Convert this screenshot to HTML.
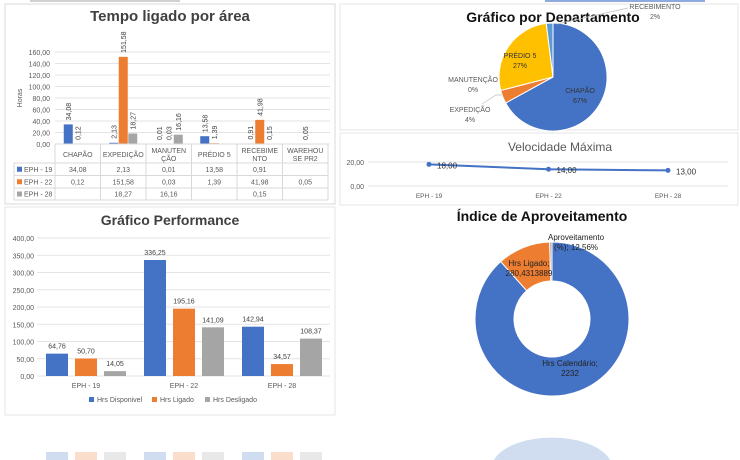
<!DOCTYPE html>
<html><head><meta charset="utf-8">
<style>
html,body{margin:0;padding:0;background:#fff;}
svg{display:block;font-family:"Liberation Sans",sans-serif;}
</style></head>
<body>
<svg id="s" width="740" height="460" viewBox="0 0 740 460" xmlns="http://www.w3.org/2000/svg">
<rect x="0" y="0" width="740" height="460" fill="#fff"/>
<line x1="30" y1="1" x2="180" y2="1" stroke="#d0d0d0" stroke-width="2"/>
<line x1="545" y1="1" x2="705" y2="1" stroke="#8faadc" stroke-width="2"/>
<rect x="5" y="4" width="330" height="200" fill="none" stroke="#d9d9d9"/>
<rect x="340" y="4" width="398" height="126" fill="none" stroke="#e6e6e6"/>
<rect x="340" y="133" width="398" height="72" fill="none" stroke="#e6e6e6"/>
<rect x="5" y="207" width="330" height="208" fill="none" stroke="#e6e6e6"/>
<text x="170" y="21" text-anchor="middle" font-size="15" font-weight="bold" fill="#404040">Tempo ligado por área</text>
<text x="553" y="22" text-anchor="middle" font-size="14" font-weight="bold" fill="#111">Gráfico por Departamento</text>
<text x="560" y="151" text-anchor="middle" font-size="12" fill="#595959">Velocidade Máxima</text>
<text x="170" y="225" text-anchor="middle" font-size="14" font-weight="bold" fill="#404040">Gráfico Performance</text>
<text x="542" y="221" text-anchor="middle" font-size="14" font-weight="bold" fill="#111">Índice de Aproveitamento</text>
<g id="g"></g>
</svg>
<script>
// ---- Area chart data
const areaCats = ["CHAPÃO|","EXPEDIÇÃO|","MANUTEN|ÇÃO","PRÉDIO 5|","RECEBIME|NTO","WAREHOU|SE PR2"];
const areaSeries = ["EPH - 19","EPH - 22","EPH - 28"];
const eph19 = [34.08, 2.13, 0.01, 13.58, 0.91, null];
const eph22 = [0.12, 151.58, 0.03, 1.39, 41.98, 0.05];
const eph28 = [null, 18.27, 16.16, null, 0.15, null];
const areaTicks = [0,20,40,60,80,100,120,140,160];
// ---- Pie data
const pieCats = ["CHAPÃO","EXPEDIÇÃO","MANUTENÇÃO","PRÉDIO 5","RECEBIMENTO"];
const pieVals = [67,4,0,27,2];
// ---- Speed data
const speedCats = ["EPH - 19","EPH - 22","EPH - 28"];
const speedVals = [18,14,13];
const speedTicks = [0,20];
// ---- Performance data
const perfCats = ["EPH - 19","EPH - 22","EPH - 28"];
const perfSeries = ["Hrs Disponivel","Hrs Ligado","Hrs Desligado"];
const hrsDisp = [64.76,336.25,142.94];
const hrsLig = [50.70,195.16,34.57];
const hrsDesl = [14.05,141.09,108.37];
const perfTicks = [0,50,100,150,200,250,300,350,400];
// ---- Donut data
const donutCats = ["Hrs Calendário","Hrs Ligado","Aproveitamento (%)"];
const donutVals = [2232,280.4313889,12.56];

const NS="http://www.w3.org/2000/svg";
const G=document.getElementById('g');
function el(tag,attrs,txt,parent){const e=document.createElementNS(NS,tag);for(const k in attrs)e.setAttribute(k,attrs[k]);if(txt!==undefined)e.textContent=txt;(parent||G).appendChild(e);return e;}
const fmt=v=>v.toFixed(2).replace('.',',');
const cols=["#4472c4","#ed7d31","#a5a5a5"];

// ===== Area chart
const aY=v=>144-v*(92/160);
const colX0=55, colW=45.5;
const aX=i=>colX0+colW*i+colW/2;
areaTicks.forEach(t=>{
  const l=el('line',{x1:55,x2:330,y1:aY(t),y2:aY(t),stroke:"#e3e3e3"});
  
  
  const tx=el('text',{x:50,y:aY(t)+3,"text-anchor":"end","font-size":7,fill:"#595959"},fmt(t));
  
  
});
const yt=el('text',{x:22,y:98,"font-size":7,fill:"#595959",transform:"rotate(-90 22 98)","text-anchor":"middle"},"Horas");


[eph19,eph22,eph28].forEach((ser,si)=>{
  ser.forEach((v,i)=>{
    if(v===null)return;
    const x=aX(i)+(si-1)*9.5-4.5;
    const r=el('rect',{x:x,y:aY(v),width:9,height:144-aY(v),fill:cols[si]});
    
    
    const lx=x+7.5, ly=aY(v)-4;
    const t=el('text',{x:lx,y:ly,"font-size":7,fill:"#404040",transform:`rotate(-90 ${lx} ${ly})`},fmt(v));
    
    
  });
});
// table
const rowsY=[144,163,175.5,188,200];
for(let i=0;i<=areaCats.length;i++){
  const l=el('line',{x1:colX0+colW*i,x2:colX0+colW*i,y1:144,y2:200,stroke:"#d9d9d9"});
  
  
}
rowsY.forEach((y,i)=>{
  const l=el('line',{x1:i===0?55:14,x2:328,y1:y,y2:y,stroke:"#d9d9d9"});
  
  
});
el('line',{x1:14,x2:14,y1:163,y2:200,stroke:"#d9d9d9"});
areaCats.forEach((c,i)=>{
  const p=c.split('|');
  const t1=el('text',{x:aX(i),y:p[1]?153:157,"text-anchor":"middle","font-size":7,fill:"#595959"},p[0]);
  
  
  if(p[1]){const t2=el('text',{x:aX(i),y:161,"text-anchor":"middle","font-size":7,fill:"#595959"},p[1]);
  
  }
});
[eph19,eph22,eph28].forEach((ser,si)=>{
  const cy=(rowsY[si+1]+rowsY[si+2])/2+2.5;
  el('rect',{x:17,y:cy-5,width:5,height:5,fill:cols[si]});
  const lt=el('text',{x:24,y:cy,"font-size":7,fill:"#595959"},areaSeries[si]);
  
  
  ser.forEach((v,i)=>{if(v===null)return;
    const t=el('text',{x:aX(i),y:cy,"text-anchor":"middle","font-size":7,fill:"#595959"},fmt(v));
    
    
  });
});

// ===== Pie
const pcx=553,pcy=77,pr=54;
const pieCols=["#4472c4","#ed7d31","#a5a5a5","#ffc000","#5b9bd5"];
const pTot=pieVals.reduce((a,b)=>a+b,0);
let ang=0;
function pt(cx,cy,r,a){return [cx+r*Math.sin(a),cy-r*Math.cos(a)];}
pieVals.forEach((v,i)=>{
  const a0=ang, a1=ang+v/pTot*2*Math.PI; ang=a1;
  if(v<=0)return;
  const [x0,y0]=pt(pcx,pcy,pr,a0),[x1,y1]=pt(pcx,pcy,pr,a1);
  const p=el('path',{d:`M${pcx},${pcy}L${x0},${y0}A${pr},${pr} 0 ${a1-a0>Math.PI?1:0} 1 ${x1},${y1}Z`,fill:pieCols[i],stroke:"#fff","stroke-width":1});
  
  
});
const pieLab=[[580,93,"#333"],[470,112,"#595959"],[473,82,"#595959"],[520,58,"#333"],[655,9,"#595959"]];
pieCats.forEach((c,i)=>{
  const [x,y,f]=pieLab[i];
  const t=el('text',{x:x,y:y,"text-anchor":"middle","font-size":7,fill:f},c);
  
  
  const t2=el('text',{x:x,y:y+10,"text-anchor":"middle","font-size":7,fill:f},pieVals[i]+"%");
  
  
});
el('polyline',{points:"482,104 496,95 502,95",fill:"none",stroke:"#bfbfbf","stroke-width":0.7});
el('line',{x1:557,y1:24,x2:628,y2:8,stroke:"#bfbfbf","stroke-width":0.7});

// ===== Speed line
const sY=v=>186-v*1.2;
const sX=i=>429+i*119.5;
speedTicks.forEach(t=>{
  const l=el('line',{x1:368,x2:728,y1:sY(t),y2:sY(t),stroke:"#e3e3e3"});
  
  
  const tx=el('text',{x:364,y:sY(t)+3,"text-anchor":"end","font-size":7,fill:"#595959"},fmt(t));
  
  
});
const lp=speedVals.map((v,i)=>sX(i)+","+sY(v)).join(" ");
const sl=el('polyline',{points:lp,fill:"none",stroke:"#4472c4","stroke-width":2});


speedVals.forEach((v,i)=>{
  const c=el('circle',{cx:sX(i),cy:sY(v),r:2.5,fill:"#4472c4"});
  
  
  const t=el('text',{x:sX(i)+8,y:sY(v)+4,"font-size":8,fill:"#333"},fmt(v));
  
  
  const c2=el('text',{x:sX(i),y:198,"text-anchor":"middle","font-size":6.5,fill:"#595959"},speedCats[i]);
  
  
});

// ===== Performance
const pY=v=>376-v*(138/400);
const pX=i=>86+i*98;
perfTicks.forEach(t=>{
  const l=el('line',{x1:37,x2:330,y1:pY(t),y2:pY(t),stroke:"#e3e3e3"});
  
  
  const tx=el('text',{x:34,y:pY(t)+3,"text-anchor":"end","font-size":7,fill:"#595959"},fmt(t));
  
  
});
[hrsDisp,hrsLig,hrsDesl].forEach((ser,si)=>{
  ser.forEach((v,i)=>{
    const x=pX(i)+(si-1)*29-11;
    const r=el('rect',{x:x,y:pY(v),width:22,height:376-pY(v),fill:cols[si]});
    
    
    const t=el('text',{x:x+11,y:pY(v)-5,"text-anchor":"middle","font-size":7,fill:"#404040"},fmt(v));
    
    
    // reflection
    const rr=el('rect',{x:x,y:452,width:22,height:8,fill:cols[si],opacity:0.25});
    
    
  });
  const lx=[89,152,205][si];
  el('rect',{x:lx,y:397,width:5,height:5,fill:cols[si]});
  const lt=el('text',{x:lx+8,y:402,"font-size":7,fill:"#595959"},perfSeries[si]);
  
  
});
perfCats.forEach((c,i)=>{
  const t=el('text',{x:pX(i),y:388,"text-anchor":"middle","font-size":7,fill:"#595959"},c);
  
  
});

// ===== Donut
const dcx=552,dcy=319,dro=77,dri=38;
const dCols=["#4472c4","#ed7d31","#a5a5a5"];
const dTot=donutVals.reduce((a,b)=>a+b,0);
let da=0;
donutVals.forEach((v,i)=>{
  const a0=da,a1=da+v/dTot*2*Math.PI; da=a1;
  const [x0,y0]=pt(dcx,dcy,dro,a0),[x1,y1]=pt(dcx,dcy,dro,a1);
  const [x2,y2]=pt(dcx,dcy,dri,a1),[x3,y3]=pt(dcx,dcy,dri,a0);
  const lg=a1-a0>Math.PI?1:0;
  const p=el('path',{d:`M${x0},${y0}A${dro},${dro} 0 ${lg} 1 ${x1},${y1}L${x2},${y2}A${dri},${dri} 0 ${lg} 0 ${x3},${y3}Z`,fill:dCols[i],stroke:"#fff","stroke-width":1});
  
  
});
const dl=[[570,366,"Hrs Calendário;","2232"],[529,266,"Hrs Ligado;","280,4313889"],[576,240,"Aproveitamento","(%); 12,56%"]];
dl.forEach((d,i)=>{
  const t=el('text',{x:d[0],y:d[1],"text-anchor":"middle","font-size":8,fill:"#222"},d[2]);
  
  
  const t2=el('text',{x:d[0],y:d[1]+10,"text-anchor":"middle","font-size":8,fill:"#222"},d[3]);
  
  
});
// donut reflection
const ref=el('path',{d:`M${dcx-58},460A60,30 0 0 1 ${dcx+58},460Z`,fill:"#4472c4",opacity:0.25});


</script>
</body></html>
